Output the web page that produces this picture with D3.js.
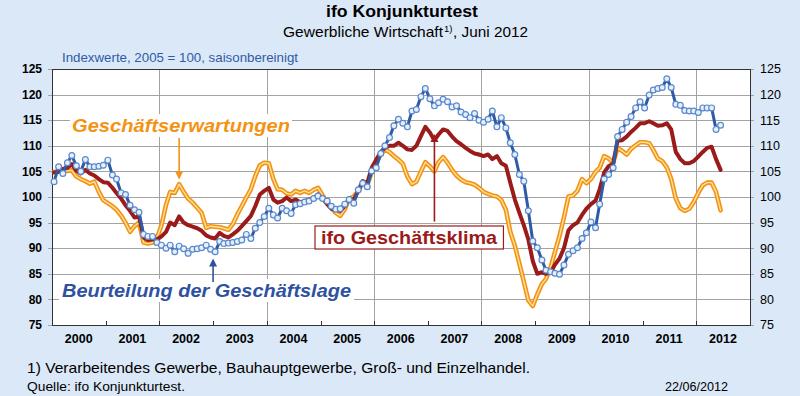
<!DOCTYPE html>
<html>
<head>
<meta charset="utf-8">
<script src="https://cdn.jsdelivr.net/npm/d3@7"></script>
<style>
  html, body { margin: 0; padding: 0; background: #dbe8f7; }
  svg { display: block; font-family: "Liberation Sans", Arial, sans-serif; }
</style>
</head>
<body>
<div id="chart"></div>
<script>
// ifo Konjunkturtest, monthly values Jan 2000 - Jun 2012 (2005 = 100)
const years = [2000, 2001, 2002, 2003, 2004, 2005, 2006, 2007, 2008, 2009, 2010, 2011, 2012];
const yTicks = [75, 80, 85, 90, 95, 100, 105, 110, 115, 120, 125];

// Beurteilung der Geschäftslage
const lage = [
  103.0, 105.9, 104.6, 106.7, 108.1, 106.1, 105.0, 107.3, 105.9, 105.9, 106.0, 106.2,
  107.2, 104.3, 103.5, 100.8, 100.5, 98.4, 97.5, 97.0, 92.7, 92.3, 92.3, 91.1,
  90.6, 90.0, 90.6, 89.3, 90.4, 89.9, 89.0, 89.8, 89.9, 90.1, 90.6, 89.8,
  89.3, 91.3, 90.9, 91.0, 91.1, 91.3, 91.6, 92.7, 91.9, 93.9, 95.0, 96.2,
  97.8, 96.5, 95.9, 97.8, 97.3, 96.8, 98.5, 98.7, 99.0, 99.2, 99.7, 100.2,
  99.7, 99.2, 98.2, 97.6, 97.7, 98.6, 99.5, 98.8, 101.4, 102.7, 102.0, 105.1,
  105.7, 108.5, 110.0, 111.6, 113.9, 115.2, 114.4, 113.7, 116.8, 117.1, 119.6, 121.2,
  119.2, 117.8, 118.4, 119.1, 118.6, 117.6, 117.8, 116.6, 116.1, 115.5, 116.3, 115.0,
  114.6, 115.2, 116.8, 113.7, 115.5, 113.5, 110.6, 108.3, 104.4, 103.1, 97.3, 91.4,
  90.1, 87.7, 85.7, 85.4, 85.1, 84.9, 86.7, 88.8, 89.5, 90.1, 91.9, 93.0,
  95.1, 94.0, 98.6, 103.5, 104.4, 105.7, 111.8, 113.2, 114.6, 115.7, 117.4, 118.6,
  117.4, 119.9, 120.9, 121.2, 121.4, 123.1, 121.4, 118.1, 117.9, 116.9, 116.8, 116.8,
  116.5, 117.4, 117.4, 117.4, 113.2, 114.0
];

// ifo Geschäftsklima
const klima = [
  104.8, 104.9, 105.5, 105.7, 106.4, 105.1, 104.6, 105.3, 104.6, 104.2, 103.5, 102.9,
  102.8, 101.8, 100.8, 99.7, 98.4, 97.3, 96.0, 96.2, 92.1, 91.6, 91.7, 91.7,
  92.3, 93.2, 95.0, 94.5, 96.2, 95.0, 94.5, 94.2, 93.9, 93.4, 92.5, 92.1,
  91.9, 93.0, 92.4, 92.1, 92.7, 93.4, 94.3, 95.3, 96.3, 98.2, 100.5, 101.2,
  101.8, 99.5, 98.9, 99.2, 99.9, 99.2, 99.5, 99.0, 99.2, 99.5, 99.7, 100.5,
  99.7, 98.6, 97.7, 97.5, 97.3, 98.2, 99.7, 99.5, 101.2, 103.1, 102.7, 105.7,
  107.3, 108.8, 109.6, 110.0, 110.0, 110.6, 110.0, 109.3, 109.2, 110.0, 111.9, 113.7,
  112.6, 111.1, 112.2, 113.2, 112.9, 111.8, 110.9, 110.3, 109.6, 109.0, 108.5, 108.3,
  108.0, 108.3, 107.4, 108.0, 106.6, 106.1, 102.8, 99.5, 96.9, 94.5, 91.7, 87.5,
  85.0, 85.3, 85.0, 85.2, 86.8, 88.0, 90.0, 93.5, 94.5, 95.0, 96.5, 97.7,
  98.6, 99.3, 101.5, 104.8, 106.0, 106.5, 111.0, 111.1, 111.8, 112.7, 113.5, 114.4,
  114.4, 114.8, 114.4, 113.9, 114.0, 114.4, 113.2, 108.8, 107.4, 106.6, 106.6, 107.0,
  107.9, 108.8, 109.6, 109.8, 107.4, 105.3
];

// Geschäftserwartungen
const erwartungen = [
  104.9, 105.1, 105.3, 105.1, 105.2, 104.0, 103.5, 103.1, 102.6, 103.0, 101.0, 99.4,
  98.8, 98.2, 97.5, 96.4, 95.0, 93.2, 94.3, 95.0, 91.1, 90.9, 91.1, 92.0,
  94.5, 98.5, 101.0, 100.8, 102.5, 101.0, 99.7, 98.9, 97.9, 96.9, 94.0, 94.3,
  94.2, 94.1, 93.9, 93.6, 94.7, 96.6, 98.2, 99.9, 101.5, 104.1, 106.2, 106.7,
  106.6, 103.5, 101.5, 101.4, 100.7, 100.5, 101.2, 100.8, 101.2, 100.8, 101.4, 101.8,
  100.3, 99.0, 97.9, 96.9, 96.3, 97.6, 99.7, 100.1, 101.2, 102.9, 102.3, 104.8,
  106.7, 108.3, 109.3, 108.8, 108.0, 107.3, 106.5, 104.0, 102.5, 103.0, 105.0, 106.8,
  106.0, 105.0, 106.8, 107.8, 106.7, 105.3, 104.2, 103.4, 102.9, 102.7, 102.4, 101.8,
  101.0, 100.6, 100.3, 100.1, 99.4, 97.5, 93.2, 90.5, 87.0, 83.5, 79.8, 78.7,
  81.0, 83.0, 84.0, 86.2, 89.3, 92.4, 96.0, 100.1, 100.3, 101.2, 103.5, 102.7,
  103.5, 104.9, 105.7, 108.0, 107.5, 106.7, 109.6, 109.0, 108.3, 109.4, 110.1, 110.7,
  110.7, 110.5, 109.2, 107.5, 107.0, 105.8, 103.5, 99.7, 97.8, 97.3, 97.7, 99.0,
  100.8, 102.3, 102.8, 102.8, 101.0, 97.4
];

(function() {
  const width = 800
  const height = 396
  const left = 52, right = 750, top = 69, bottom = 325

  const blue = "#2f5ba6"
  const red = "#9b1b1b"
  const orange = "#f39314"

  const dates = lage.map((d, i) => new Date(2000, i, 15))

  const x = d3.scaleTime()
    .domain([new Date(years[0], 0, 1), new Date(years[years.length - 1] + 1, 0, 1)])
    .range([left, right])
  const y = d3.scaleLinear().domain([75, 125]).range([bottom, top])

  const svg = d3.select("#chart").append("svg")
    .attr("width", width)
    .attr("height", height)

  svg.append("rect").attr("width", width).attr("height", height).attr("fill", "#dbe8f7")

  // titles (stretched a bit like the original)
  svg.append("text")
    .attr("x", 326).attr("y", 17)
    .attr("font-size", 16).attr("font-weight", "bold")
    .attr("textLength", 152).attr("lengthAdjust", "spacingAndGlyphs")
    .text("ifo Konjunkturtest")

  svg.append("text")
    .attr("x", 283).attr("y", 37)
    .attr("font-size", 15)
    .attr("textLength", 160).attr("lengthAdjust", "spacingAndGlyphs")
    .text("Gewerbliche Wirtschaft")
  svg.append("text")
    .attr("x", 444).attr("y", 32)
    .attr("font-size", 9.5)
    .text("1)")
  svg.append("text")
    .attr("x", 453).attr("y", 37)
    .attr("font-size", 15)
    .attr("textLength", 75).attr("lengthAdjust", "spacingAndGlyphs")
    .text(", Juni 2012")

  svg.append("text")
    .attr("x", 62).attr("y", 62)
    .attr("font-size", 13)
    .attr("fill", "#2f5ba6")
    .attr("textLength", 236).attr("lengthAdjust", "spacingAndGlyphs")
    .text("Indexwerte, 2005 = 100, saisonbereinigt")

  // plot area
  svg.append("rect")
    .attr("x", left).attr("y", top)
    .attr("width", right - left).attr("height", bottom - top)
    .attr("fill", "#fff")

  const grid = svg.append("g").attr("stroke", "#a3a3a3").attr("stroke-width", 1)

  grid.selectAll("line.h")
    .data(yTicks)
    .enter().append("line")
      .attr("x1", left - 4).attr("x2", right + 4)
      .attr("y1", d => Math.round(y(d)) + 0.5)
      .attr("y2", d => Math.round(y(d)) + 0.5)

  grid.selectAll("line.v")
    .data(years.filter(d => d > 2000 && d % 2 === 0))
    .enter().append("line")
      .attr("x1", d => Math.round(x(new Date(d, 0, 1))) + 0.5)
      .attr("x2", d => Math.round(x(new Date(d, 0, 1))) + 0.5)
      .attr("y1", top).attr("y2", bottom)

  // small year ticks at the bottom
  svg.append("g").attr("stroke", "#333")
    .selectAll("line")
    .data(years.slice(1))
    .enter().append("line")
      .attr("x1", d => Math.round(x(new Date(d, 0, 1))) + 0.5)
      .attr("x2", d => Math.round(x(new Date(d, 0, 1))) + 0.5)
      .attr("y1", bottom).attr("y2", bottom - 4)

  svg.append("rect")
    .attr("x", left + 0.5).attr("y", top + 0.5)
    .attr("width", right - left).attr("height", bottom - top)
    .attr("fill", "none")
    .attr("stroke", "#333")

  // axis labels
  svg.append("g")
    .attr("font-size", 12).attr("font-weight", "bold")
    .attr("text-anchor", "end")
    .selectAll("text")
    .data(yTicks)
    .enter().append("text")
      .attr("x", 42).attr("y", d => y(d)).attr("dy", "0.35em")
      .text(d => d)

  svg.append("g")
    .attr("font-size", 12.5)
    .selectAll("text")
    .data(yTicks)
    .enter().append("text")
      .attr("x", 760).attr("y", d => y(d)).attr("dy", "0.35em")
      .text(d => d)

  svg.append("g")
    .attr("font-size", 12.5).attr("font-weight", "bold")
    .attr("text-anchor", "middle")
    .selectAll("text")
    .data(years)
    .enter().append("text")
      .attr("x", d => x(new Date(d, 6, 1)))
      .attr("y", 343)
      .text(d => d)

  // series
  const line = values => d3.line()
    .x((d, i) => x(dates[i]))
    .y(d => y(d))(values)

  const series = svg.append("g")
    .attr("fill", "none")
    .attr("stroke-linejoin", "round")
    .attr("stroke-linecap", "round")

  series.append("path").attr("d", line(erwartungen))
    .attr("stroke", orange).attr("stroke-width", 4.6)
  series.append("path").attr("d", line(erwartungen))
    .attr("stroke", "#ffe09a").attr("stroke-width", 1.4)

  series.append("path").attr("d", line(klima))
    .attr("stroke", red).attr("stroke-width", 4)

  series.append("path").attr("d", line(lage))
    .attr("stroke", blue).attr("stroke-width", 3)

  svg.append("g")
    .attr("fill", "#e6f0fb")
    .attr("stroke", "#5a88cc")
    .attr("stroke-width", 1.2)
    .selectAll("circle")
    .data(lage)
    .enter().append("circle")
      .attr("cx", (d, i) => x(dates[i]))
      .attr("cy", d => y(d))
      .attr("r", 2.9)

  // annotations
  const label = (tx, ty, str, color, opts) => {
    const g = svg.append("g")
    const t = g.append("text")
      .attr("x", tx).attr("y", ty)
      .attr("font-size", opts.size)
      .attr("font-weight", "bold")
      .attr("font-style", opts.italic ? "italic" : "normal")
      .attr("fill", color)
      .text(str)
    if (opts.len) t.attr("textLength", opts.len).attr("lengthAdjust", "spacingAndGlyphs")
    const b = t.node().getBBox()
    g.insert("rect", "text")
      .attr("x", b.x - opts.pad).attr("y", b.y - 1)
      .attr("width", b.width + opts.pad * 2).attr("height", b.height + 2)
      .attr("fill", "#fff")
      .attr("stroke", opts.box ? color : "none")
      .attr("stroke-width", 1.2)
    return b
  }

  const arrow = (xd, v0, v1, color) => {
    const px = x(xd), y0 = y(v0), y1 = y(v1)
    const dir = y1 > y0 ? 1 : -1
    svg.append("line")
      .attr("x1", px).attr("x2", px)
      .attr("y1", y0).attr("y2", y1 - dir * 6)
      .attr("stroke", color).attr("stroke-width", 1.6)
    svg.append("path")
      .attr("d", `M${px - 4},${y1 - dir * 8}L${px + 4},${y1 - dir * 8}L${px},${y1}Z`)
      .attr("fill", color)
  }

  label(72, 132, "Geschäftserwartungen", orange, { size: 18.5, italic: true, pad: 2, len: 218 })
  arrow(new Date(2002, 4, 15), 111.5, 103.4, orange)

  label(62, 297, "Beurteilung der Geschäftslage", "#2e52a0", { size: 18.5, italic: true, pad: 3, len: 289 })
  arrow(new Date(2003, 0, 1), 83.4, 88.0, "#2e52a0")

  arrow(new Date(2007, 1, 15), 95.2, 112.3, red)
  label(321, 244, "ifo Geschäftsklima", red, { size: 19, italic: false, pad: 6, box: true, len: 176 })

  // footer
  svg.append("text")
    .attr("x", 27).attr("y", 373)
    .attr("font-size", 14.5)
    .attr("textLength", 503).attr("lengthAdjust", "spacingAndGlyphs")
    .text("1) Verarbeitendes Gewerbe, Bauhauptgewerbe, Groß- und Einzelhandel.")

  svg.append("text")
    .attr("x", 27).attr("y", 391)
    .attr("font-size", 12.5)
    .attr("textLength", 158).attr("lengthAdjust", "spacingAndGlyphs")
    .text("Quelle: ifo Konjunkturtest.")

  svg.append("text")
    .attr("x", 665).attr("y", 391)
    .attr("font-size", 12.5)
    .attr("textLength", 63).attr("lengthAdjust", "spacingAndGlyphs")
    .text("22/06/2012")
})()
</script>
</body>
</html>
